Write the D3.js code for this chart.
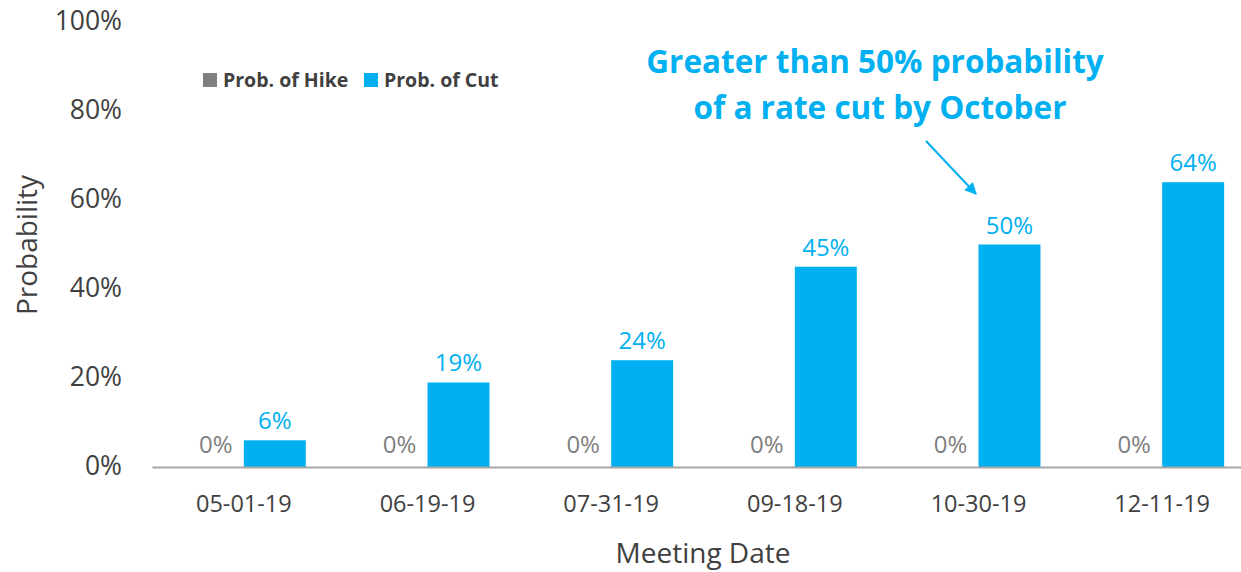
<!DOCTYPE html>
<html>
<head>
<meta charset="utf-8">
<script src="https://cdn.jsdelivr.net/npm/d3@7"></script>
<style>
  html, body { margin: 0; padding: 0; background: #fff; }
  svg { display: block; font-family: "Open Sans", Lato, sans-serif; }
</style>
</head>
<body>
<svg id="chart" width="1241" height="572"></svg>
<script>
// Fed meeting dates and market-implied probabilities (%)
const meetingDates = ["05-01-19", "06-19-19", "07-31-19", "09-18-19", "10-30-19", "12-11-19"];
const probHike = [0, 0, 0, 0, 0, 0];
const probCut = [6, 19, 24, 45, 50, 64];
const seriesNames = ["Prob. of Hike", "Prob. of Cut"];
const seriesColors = ["#7F7F7F", "#00B0F0"];
const yTicks = [0, 20, 40, 60, 80, 100];

const FONT = "'Open Sans', Lato, sans-serif";
const svg = d3.select("#chart");
const plotLeft = 152, plotRight = 1254, plotTop = 22, plotBottom = 467;

const x0 = d3.scaleBand().domain(meetingDates).range([plotLeft, plotRight])
  .paddingInner(0.325).paddingOuter(0.1625);
const x1 = d3.scaleBand().domain(seriesNames).range([0, x0.bandwidth()]);
const y = d3.scaleLinear().domain([0, 100]).range([plotBottom, plotTop]);

const rows = meetingDates.map((d, i) => ({ date: d, values: [probHike[i], probCut[i]] }));

// Y axis: labels only
const yAxis = svg.append("g").attr("transform", `translate(${plotLeft},0)`)
  .call(d3.axisLeft(y).tickValues(yTicks).tickFormat(d => d + "%").tickSize(0).tickPadding(30));
yAxis.select(".domain").remove();
yAxis.selectAll("text").attr("font-size", 26.5).attr("fill", "#404040")
  .attr("font-family", FONT).attr("dy", "0.3em");

// Bars
const groups = svg.append("g").selectAll("g").data(rows).join("g")
  .attr("transform", d => `translate(${x0(d.date)},0)`);
groups.selectAll("rect").data(d => d.values.map((v, k) => ({ v, k }))).join("rect")
  .attr("x", d => x1(seriesNames[d.k]))
  .attr("width", x1.bandwidth())
  .attr("y", d => y(d.v))
  .attr("height", d => y(0) - y(d.v))
  .attr("fill", d => seriesColors[d.k]);

// Value labels
groups.selectAll("text").data(d => d.values.map((v, k) => ({ v, k }))).join("text")
  .attr("x", d => x1(seriesNames[d.k]) + x1.bandwidth() / 2 + (d.k === 0 ? 3 : 0))
  .attr("y", d => y(d.v) - (d.k === 0 ? 14 : 11))
  .attr("text-anchor", "middle")
  .attr("font-size", 24)
  .attr("fill", d => d.k === 0 ? "#7F7F7F" : "#00B0F0")
  .text(d => d.v + "%");

// X axis
const xAxis = svg.append("g").attr("transform", `translate(0,${plotBottom})`)
  .call(d3.axisBottom(x0).tickSize(0));
xAxis.select(".domain").attr("stroke", "#A6A6A6").attr("stroke-width", 2);
xAxis.selectAll("text").attr("font-size", 23.5).attr("fill", "#404040")
  .attr("font-family", FONT).attr("y", 45).attr("dy", null);

// Axis titles
svg.append("text").attr("x", 703).attr("y", 563)
  .attr("text-anchor", "middle").attr("font-size", 28).attr("fill", "#404040")
  .text("Meeting Date");
svg.append("text").attr("transform", "translate(37,245) rotate(-90)")
  .attr("text-anchor", "middle").attr("font-size", 28).attr("fill", "#404040")
  .text("Probability");

// Legend
const legend = svg.append("g").attr("transform", "translate(203,87)");
const legX = [0, 161];
seriesNames.forEach((name, k) => {
  const g = legend.append("g").attr("transform", `translate(${legX[k]},0)`);
  g.append("rect").attr("x", 0).attr("y", -14).attr("width", 14).attr("height", 14)
    .attr("fill", seriesColors[k]);
  g.append("text").attr("x", 20).attr("y", 0).attr("font-size", 19.5)
    .attr("font-weight", "bold").attr("fill", "#404040").text(name);
});

// Annotation
const note = svg.append("text").attr("text-anchor", "middle")
  .attr("font-size", 31.5).attr("font-weight", "bold").attr("fill", "#00B0F0");
note.append("tspan").attr("x", 875).attr("y", 72.5).text("Greater than 50% probability");
note.append("tspan").attr("x", 880).attr("y", 118.5).text("of a rate cut by October");

svg.append("defs").append("marker").attr("id", "arrowhead")
  .attr("viewBox", "0 0 10 10").attr("refX", 9).attr("refY", 5)
  .attr("markerWidth", 7).attr("markerHeight", 6).attr("orient", "auto")
  .append("path").attr("d", "M0,0 L10,5 L0,10 Z").attr("fill", "#00B0F0");
svg.append("line").attr("x1", 926).attr("y1", 141).attr("x2", 976).attr("y2", 194)
  .attr("stroke", "#00B0F0").attr("stroke-width", 2).attr("marker-end", "url(#arrowhead)");
</script>
</body>
</html>
